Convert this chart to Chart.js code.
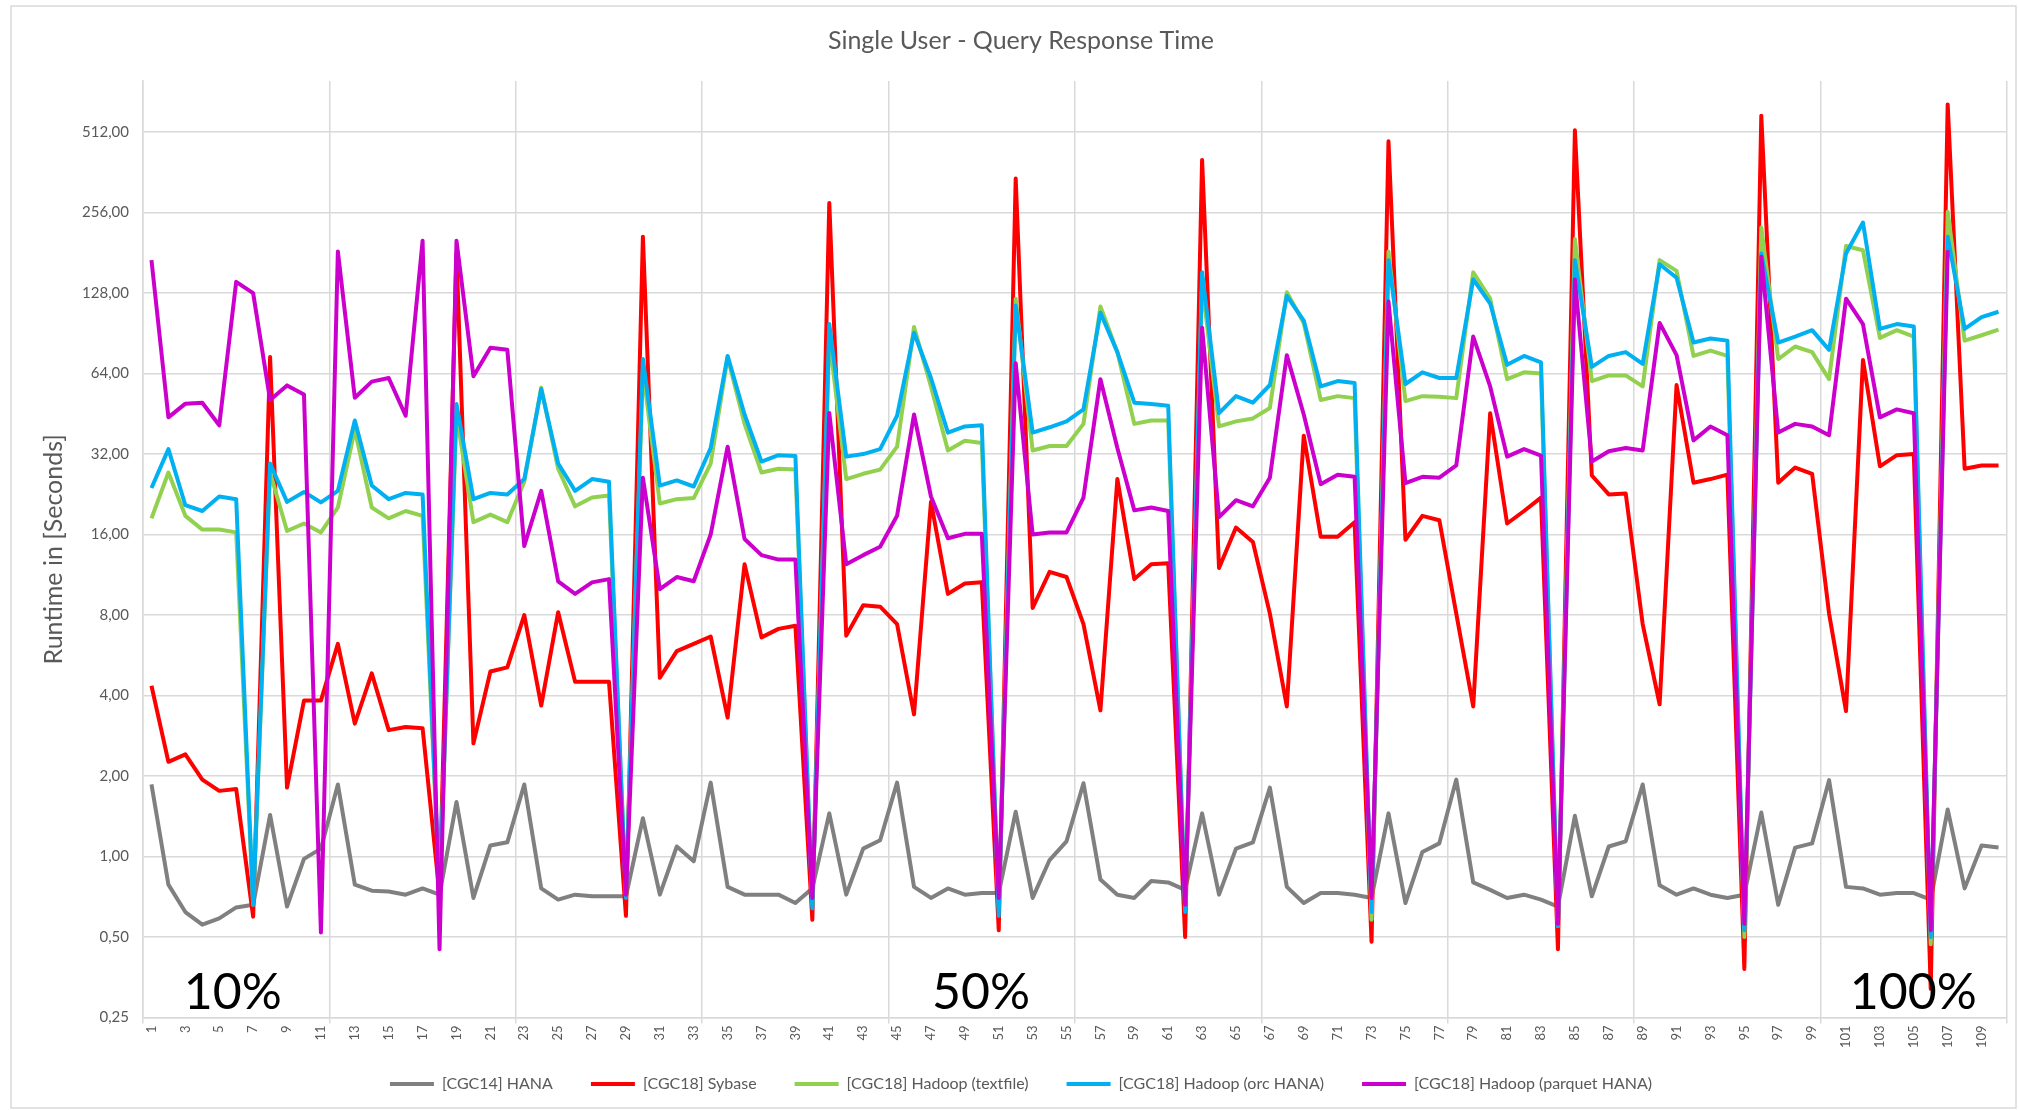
<!DOCTYPE html>
<html>
<head>
<meta charset="utf-8">
<title>Single User - Query Response Time</title>
<script src="https://cdn.jsdelivr.net/npm/chart.js@4.4.0/dist/chart.umd.min.js"></script>
<style>
  html, body { margin: 0; padding: 0; background: #fff; }
  #chart { display: block; }
</style>
</head>
<body>
<canvas id="chart" width="2019" height="1110"></canvas>
<script>
// query number 1..110 (10 runs of 11 queries)
const categories = Array.from({length: 110}, (_, i) => String(i + 1));

const yTicks = [0.25, 0.5, 1, 2, 4, 8, 16, 32, 64, 128, 256, 512];

const seriesNames = [
    '[CGC14] HANA',
    '[CGC18] Sybase',
    '[CGC18] Hadoop (textfile)',
    '[CGC18] Hadoop (orc HANA)',
    '[CGC18] Hadoop (parquet HANA)'
];
const seriesColors = ['#808080', '#ff0000', '#92d050', '#00b0f0', '#cc00cc'];

const hana = [
    1.86, 0.785, 0.62, 0.556, 0.587, 0.645, 0.66, 1.43, 0.65, 0.98, 1.07,
    1.86, 0.785, 0.745, 0.74, 0.72, 0.76, 0.72, 1.6, 0.70, 1.1, 1.13,
    1.86, 0.76, 0.69, 0.72, 0.71, 0.71, 0.71, 1.39, 0.72, 1.09, 0.96,
    1.89, 0.77, 0.72, 0.72, 0.72, 0.67, 0.76, 1.45, 0.72, 1.07, 1.15,
    1.89, 0.77, 0.70, 0.76, 0.72, 0.73, 0.73, 1.47, 0.70, 0.97, 1.14,
    1.88, 0.82, 0.72, 0.70, 0.81, 0.80, 0.75, 1.45, 0.72, 1.07, 1.13,
    1.81, 0.77, 0.67, 0.73, 0.73, 0.72, 0.70, 1.45, 0.67, 1.04, 1.12,
    1.94, 0.80, 0.75, 0.70, 0.72, 0.69, 0.65, 1.42, 0.71, 1.09, 1.14,
    1.86, 0.78, 0.72, 0.76, 0.72, 0.70, 0.72, 1.46, 0.66, 1.08, 1.12,
    1.93, 0.77, 0.76, 0.72, 0.73, 0.73, 0.69, 1.5, 0.76, 1.1, 1.08
];

const sybase = [
    4.35, 2.26, 2.41, 1.94, 1.76, 1.79, 0.596, 73.8, 1.81, 3.83, 3.83,
    6.24, 3.14, 4.84, 2.97, 3.05, 3.02, 0.72, 180, 2.65, 4.92, 5.1,
    8, 3.67, 8.2, 4.5, 4.5, 4.5, 0.6, 208, 4.66, 5.86, 6.24,
    6.65, 3.31, 12.4, 6.6, 7.1, 7.3, 0.58, 278, 6.7, 8.7, 8.6,
    7.4, 3.4, 21.2, 9.6, 10.5, 10.6, 0.53, 343, 8.5, 11.6, 11.1,
    7.4, 3.52, 25.8, 10.9, 12.4, 12.5, 0.5, 403, 12, 17, 15.0,
    8.1, 3.64, 37.5, 15.7, 15.7, 17.8, 0.48, 473, 15.3, 18.8, 18.1,
    8.1, 3.64, 45.5, 17.6, 19.6, 22, 0.45, 520, 26.6, 22.6, 22.8,
    7.4, 3.71, 58, 25, 25.8, 26.8, 0.38, 590, 25, 28.5, 27,
    8.1, 3.5, 72, 28.8, 31.7, 32, 0.32, 650, 28.2, 29, 29
];

const textfile = [
    18.4, 27.3, 18.8, 16.7, 16.7, 16.3, 0.66, 27.3, 16.5, 17.6, 16.3,
    20.2, 39.5, 20.2, 18.4, 19.6, 18.8, 0.72, 45, 17.8, 19.0, 17.8,
    25.2, 56.7, 28.2, 20.4, 22, 22.4, 0.72, 66, 20.9, 21.7, 21.9,
    29.5, 73.5, 41.5, 27.3, 28.2, 28, 0.66, 87, 25.8, 27, 28,
    34.1, 95.6, 57.3, 33, 35.9, 35.2, 0.64, 122, 33, 34.3, 34.3,
    41.5, 114, 77, 41.5, 42.7, 42.7, 0.66, 140, 40.6, 42.4, 43.5,
    47.6, 129, 99, 51, 52.7, 51.8, 0.58, 183, 50.5, 52.7, 52.4,
    51.8, 153, 122, 61, 64.7, 64, 0.55, 204, 60, 63, 63,
    57.3, 170, 155, 74.5, 78, 74.5, 0.5, 225, 72.5, 80.8, 77,
    61, 192, 185, 87, 93, 88, 0.47, 258, 85, 89, 93.5
];

const orc = [
    23.9, 33.4, 20.6, 19.6, 22.2, 21.7, 0.66, 29.5, 21.2, 23.1, 21.1,
    23.3, 42.7, 24.4, 21.7, 22.9, 22.6, 0.72, 49.2, 21.7, 22.9, 22.6,
    25.8, 56, 29.5, 23.3, 25.8, 25.2, 0.70, 72.5, 24.4, 25.5, 24.2,
    33.7, 74.5, 45, 30, 31.7, 31.5, 0.64, 98, 31.3, 32, 33.4,
    44.5, 91, 61.6, 38.5, 40.6, 41, 0.60, 115, 38.5, 40.3, 42.4,
    47, 108, 77, 49.8, 49.2, 48.5, 0.62, 153, 45.5, 52.7, 49.8,
    58, 125, 101, 57.3, 60, 59, 0.62, 170, 58.5, 64.7, 61.6,
    61.6, 144, 117, 69, 74.5, 70.5, 0.55, 170, 67.8, 74.5, 77,
    69.6, 164, 146, 83.6, 86.6, 85, 0.53, 180, 83.6, 88, 93,
    78.5, 180, 235, 94, 98, 96, 0.5, 208, 94, 104, 109
];

const parquet = [
    170, 43.9, 49.4, 49.8, 41.0, 141, 128, 51, 57.8, 53.4, 0.52,
    183, 52, 59.7, 61.6, 44.5, 201, 0.45, 201, 62.5, 80, 78.5,
    14.5, 23.3, 10.7, 9.6, 10.6, 10.9, 0.72, 26.1, 10.0, 11.1, 10.7,
    16, 34.1, 15.4, 13.4, 12.9, 12.9, 0.70, 45.6, 12.4, 13.4, 14.4,
    18.8, 45, 22.2, 15.5, 16.1, 16.1, 0.70, 70, 16, 16.3, 16.3,
    22, 61, 33.7, 19.7, 20.2, 19.6, 0.66, 95, 18.6, 21.5, 20.4,
    26.1, 75, 45, 24.7, 26.8, 26.3, 0.70, 119, 24.9, 26.3, 26.1,
    29, 88, 57.3, 31.3, 33.4, 31.6, 0.56, 144, 30, 32.8, 33.7,
    33, 99, 75, 36, 40.6, 37.6, 0.56, 175, 38.5, 41.5, 40.6,
    37.6, 122, 98, 43.9, 47, 45.5, 0.53, 185, null, null, null
];

// scale factor labels written inside the plot
const noteTexts = ['10%', '50%', '100%'];
const noteQuery = [5.8, 49.95, 104.97];

const textGray = '#595959';
const gridGray = '#d9d9d9';
const font = 'Lato';

const frame = {
    id: 'frame',
    beforeDraw(chart) {
        const {ctx, width, height} = chart;
        ctx.save();
        ctx.fillStyle = '#fff';
        ctx.fillRect(0, 0, width, height);
        ctx.strokeStyle = gridGray;
        ctx.lineWidth = 1.5;
        ctx.strokeRect(11, 6, width - 14, height - 8);
        ctx.restore();
    }
};

// Excel style x labels, rotated to read upwards, every second query
const xLabels = {
    id: 'xLabels',
    afterDraw(chart) {
        const {ctx} = chart;
        const xs = chart.scales.x;
        ctx.save();
        ctx.font = `13px ${font}`;
        ctx.fillStyle = textGray;
        ctx.textAlign = 'right';
        ctx.textBaseline = 'middle';
        categories.forEach((label, i) => {
            if (i % 2) return;
            ctx.save();
            ctx.translate(xs.getPixelForTick(i), xs.top + 8);
            ctx.rotate(-Math.PI / 2);
            ctx.fillText(label, 0, 0);
            ctx.restore();
        });
        ctx.restore();
    }
};

const notes = {
    id: 'notes',
    afterDatasetsDraw(chart) {
        const {ctx} = chart;
        const xs = chart.scales.x;
        const ys = chart.scales.y;
        ctx.save();
        ctx.font = `50px ${font}`;
        ctx.fillStyle = '#000';
        ctx.textAlign = 'center';
        ctx.textBaseline = 'middle';
        noteTexts.forEach((t, i) => {
            ctx.fillText(t, xs.getPixelForValue(noteQuery[i] - 1), ys.getPixelForValue(0.31));
        });
        ctx.restore();
    }
};

const seriesData = [hana, sybase, textfile, orc, parquet];

new Chart(document.getElementById('chart'), {
    type: 'line',
    data: {
        labels: categories,
        datasets: seriesData.map((d, i) => ({
            label: seriesNames[i],
            data: d,
            borderColor: seriesColors[i],
            backgroundColor: seriesColors[i],
            borderWidth: 4,
            borderJoinStyle: 'round',
            pointRadius: 0,
            tension: 0,
            order: seriesData.length - i
        }))
    },
    options: {
        responsive: false,
        animation: false,
        layout: {
            padding: {left: 35, right: 12, top: 0, bottom: 8}
        },
        plugins: {
            title: {
                display: true,
                text: 'Single User - Query Response Time',
                color: textGray,
                font: {family: font, size: 25, weight: 'normal'},
                padding: {top: 26, bottom: 25}
            },
            legend: {
                position: 'bottom',
                labels: {
                    color: textGray,
                    font: {family: font, size: 16},
                    usePointStyle: true,
                    pointStyle: 'line',
                    pointStyleWidth: 44,
                    padding: 38,
                    sort: (a, b) => a.datasetIndex - b.datasetIndex
                }
            },
            tooltip: {enabled: false}
        },
        scales: {
            x: {
                type: 'category',
                offset: true,
                afterFit: (scale) => { scale.height = 20.5; },
                grid: {
                    offset: true,
                    drawTicks: true,
                    tickLength: 6,
                    lineWidth: 1.5,
                    color: (c) => (c.index === undefined || c.index % 11 === 0) ? gridGray : 'rgba(0,0,0,0)'
                },
                border: {color: gridGray, width: 1.5},
                ticks: {display: false, autoSkip: false}
            },
            y: {
                type: 'logarithmic',
                min: 0.25,
                max: 795,
                afterBuildTicks: (scale) => { scale.ticks = yTicks.map(v => ({value: v})); },
                afterFit: (scale) => { scale.width = 108; },
                grid: {color: gridGray, lineWidth: 1.5, drawTicks: false},
                border: {color: gridGray, width: 1.5},
                ticks: {
                    color: textGray,
                    font: {family: font, size: 15},
                    padding: 14,
                    callback: (v) => Number(v).toFixed(2).replace('.', ',')
                },
                title: {
                    display: true,
                    text: 'Runtime in [Seconds]',
                    color: textGray,
                    font: {family: font, size: 25}
                }
            }
        }
    },
    plugins: [frame, xLabels, notes]
});
</script>
</body>
</html>
